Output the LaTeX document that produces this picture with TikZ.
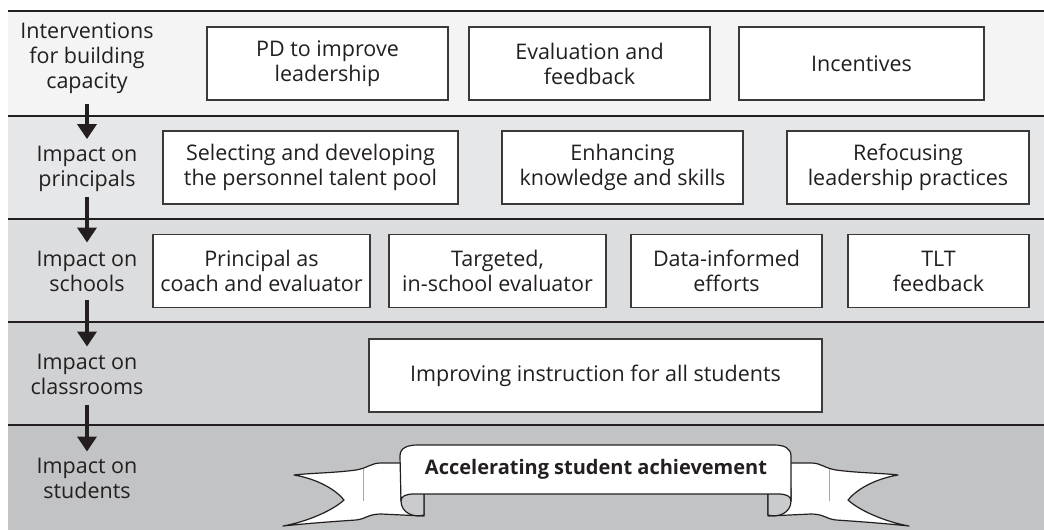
\documentclass[tikz,border=0pt]{standalone}
\usepackage{fontspec}
\setmainfont{Open Sans}
\usetikzlibrary{arrows.meta}
\definecolor{ink}{HTML}{231F20}
\definecolor{boxline}{HTML}{3A3A3A}
\definecolor{bandA}{HTML}{F4F4F4}
\definecolor{bandB}{HTML}{E6E7E8}
\definecolor{bandC}{HTML}{DCDDDF}
\definecolor{bandD}{HTML}{D0D1D3}
\definecolor{bandE}{HTML}{C2C3C5}
\definecolor{curlshade}{HTML}{CACBCD}
\begin{document}
\begin{tikzpicture}[x=1pt,y=-1pt,
  font=\fontsize{21.5}{25}\selectfont, text=ink,
  lbl/.style={align=center, inner sep=0pt},
  box/.style={draw=boxline, line width=1.3pt, fill=white, align=center, inner sep=0pt, minimum height=73pt},
  flow/.style={-{Triangle[width=19pt,length=15pt]}, line width=4.5pt, draw=ink},
  divider/.style={draw=ink, line width=1.3pt},
  ribbon/.style={draw=ink, line width=1.2pt, fill=white, line join=round},
  fold/.style={draw=black!35, line width=0.6pt}]
\useasboundingbox (0,0) rectangle (1044,530);

% horizontal bands
\fill[bandA] (8,11) rectangle (1044,116);
\fill[bandB] (8,116) rectangle (1044,219);
\fill[bandC] (8,219) rectangle (1044,322);
\fill[bandD] (8,322) rectangle (1044,425);
\fill[bandE] (8,425) rectangle (1044,530);
\foreach \yy in {11,116,219,322,425}
  \draw[divider] (8,\yy) -- (1044,\yy);

% level labels
\node[lbl] (lab1) at (87,58)    {Interventions\\for building\\capacity};
\node[lbl] (lab2) at (87,169)   {Impact on\\principals};
\node[lbl] (lab3) at (87,271)   {Impact on\\schools};
\node[lbl] (lab4) at (87,374)   {Impact on\\classrooms};
\node[lbl] (lab5) at (87,478)   {Impact on\\students};

\draw[flow, shorten <=10pt, shorten >=7pt] (lab1.south) -- (lab2.north);
\draw[flow, shorten <=5pt,  shorten >=8pt] (lab2.south) -- (lab3.north);
\draw[flow, shorten <=9pt,  shorten >=7pt] (lab3.south) -- (lab4.north);
\draw[flow, shorten <=11pt, shorten >=6pt] (lab4.south) -- (lab5.north);

% interventions
\node[box, minimum width=241pt] (pd)  at (327.5,63.5) {PD to improve\\leadership};
\node[box, minimum width=241pt] (evf) at (589.5,63.5) {Evaluation and\\feedback};
\node[box, minimum width=245pt] (inc) at (861.5,63.5) {Incentives};

% principals
\node[box, minimum width=295pt] (sel) at (310.5,167.5) {Selecting and developing\\the personnel talent pool};
\node[box, minimum width=241pt] (enh) at (622.5,167.5) {Enhancing\\knowledge and skills};
\node[box, minimum width=242pt] (ref) at (908,167.5)   {Refocusing\\leadership practices};

% schools
\node[box, minimum width=217pt] (coach) at (261.5,271) {Principal as\\coach and evaluator};
\node[box, minimum width=217pt] (targ)  at (497.5,271) {Targeted,\\in-school evaluator};
\node[box, minimum width=191pt] (data)  at (726.5,271) {Data-informed\\efforts};
\node[box, minimum width=181pt] (tlt)   at (938.5,271) {TLT\\feedback};

% classrooms
\node[box, minimum width=453pt] (instr) at (595.5,375.5) {Improving instruction for all students};

% students: ribbon banner
\foreach \s in {1,-1}{
  \begin{scope}[shift={(596,0)}, xscale=\s]
    % tail
    \draw[ribbon] (-172,463) -- (-215,463)
      .. controls (-225,463) and (-228,468) .. (-240,470)
      .. controls (-262,473) and (-285,473) .. (-302,475)
      .. controls (-278,479) and (-260,490) .. (-252,500)
      .. controls (-264,511) and (-290,522) .. (-313,526)
      .. controls (-285,523) and (-255,521) .. (-240,520)
      .. controls (-230,519) and (-228,514) .. (-215,514)
      -- (-172,516) -- cycle;
    \draw[fold] (-233,469) -- (-233,501);
    % curl under the front panel
    \filldraw[draw=ink, line width=1.2pt, fill=curlshade, line join=round]
      (-172,488) -- (-172,515)
      .. controls (-182,518) and (-195,513) .. (-195,501)
      -- (-195,488) -- cycle;
  \end{scope}
}
\draw[ribbon] (400,456) .. controls (400,448) and (407,445) .. (418,445)
  -- (774,445) .. controls (784,445) and (791,448) .. (791,456)
  -- (791,501) .. controls (791,496) and (786,494) .. (778,494)
  -- (414,494) .. controls (406,494) and (401,496) .. (401,501) -- cycle;
\node[inner sep=0pt, font=\fontsize{20}{24}\selectfont\bfseries] (goal) at (596,469)
  {Accelerating student achievement};
\end{tikzpicture}
\end{document}
